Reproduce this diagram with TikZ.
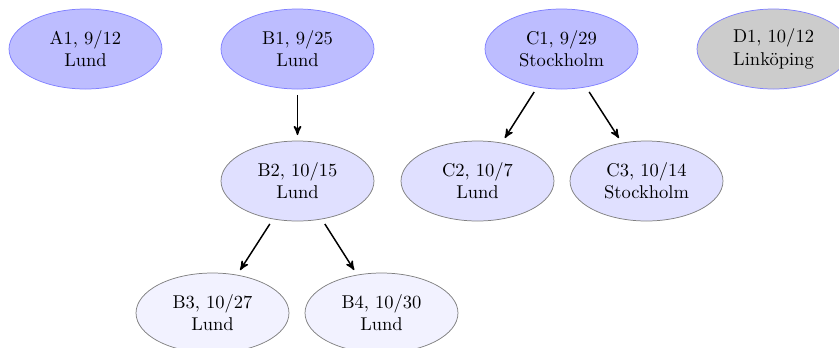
\documentclass[tikz,border=0pt]{standalone}
\usetikzlibrary{shapes.geometric,arrows}
\begin{document}
\begin{tikzpicture}[x=0.54pt,y=-0.54pt,
  ev/.style={ellipse,draw,inner sep=0pt,minimum width=82.6pt,minimum height=43.2pt,align=center},
  top/.style={ev,fill=blue!26,draw=blue!50},
  topgray/.style={ev,fill=gray!40,draw=blue!50},
  mid/.style={ev,fill=blue!12,draw=gray},
  low/.style={ev,fill=blue!5,draw=gray},
  link/.style={-stealth',thick,shorten >=3pt,shorten <=3pt}]
\clip (0,0) rectangle (839,347);
\node[top] (A1) at (85.5,49) {A1, $9/12$\\Lund};
\node[top] (B1) at (297.5,49) {B1, $9/25$\\Lund};
\node[top] (C1) at (561.5,49) {C1, $9/29$\\Stockholm};
\node[topgray] (D1) at (773.5,49) {D1, $10/12$\\Link\"oping};
\node[mid] (B2) at (297.5,181) {B2, $10/15$\\Lund};
\node[mid] (C2) at (477.5,181) {C2, $10/7$\\Lund};
\node[mid] (C3) at (646.5,181) {C3, $10/14$\\Stockholm};
\node[low] (B3) at (212.5,313) {B3, $10/27$\\Lund};
\node[low] (B4) at (381.5,313) {B4, $10/30$\\Lund};
\draw[link] (B1) -- (B2);
\draw[link] (B2) -- (B3);
\draw[link] (B2) -- (B4);
\draw[link] (C1) -- (C2);
\draw[link] (C1) -- (C3);
\end{tikzpicture}
\end{document}
